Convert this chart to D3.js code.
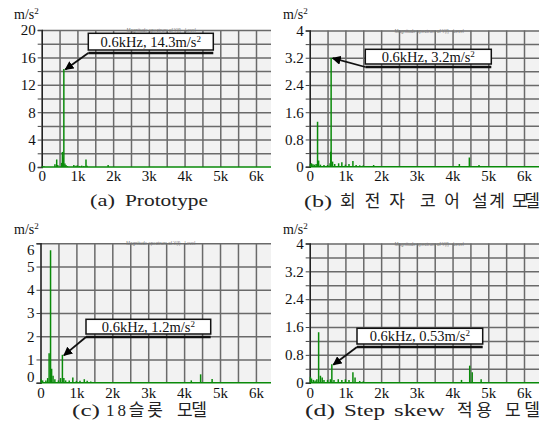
<!DOCTYPE html>
<html>
<head>
<meta charset="utf-8">
<script src="https://cdn.jsdelivr.net/npm/d3@7"></script>
<style>
body { margin: 0; background: #fff; }
svg { display: block; }
</style>
</head>
<body>
<div id="chart"></div>
<script>
// frequency axis (Hz)
var xTickValues = [0, 1000, 2000, 3000, 4000, 5000, 6000];
var xTickLabels = ['0', '1k', '2k', '3k', '4k', '5k', '6k'];
var xMax = 6420;

// captions, split into words
var captionA = ['(a)', 'Prototype'];
var captionB = ['(b)', '회전자', '코어', '설계', '모델'];
var captionC = ['(c)', '18슬롯', '모델'];
var captionD = ['(d)', 'Step', 'skew', '적용', '모델'];
var notes = ['0.6kHz, 14.3m/s', '0.6kHz, 3.2m/s', '0.6kHz, 1.2m/s', '0.6kHz, 0.53m/s'];
var unitLabel = 'm/s';

var yMax = [20, 4, 6, 4];
var yGridStep = [2, 0.4, 1, 0.4];
var yTicksA = [0, 4, 8, 12, 16, 20];
var yTicksB = [0, 0.8, 1.6, 2.4, 3.2, 4];
var yTicksC = [0, 1, 2, 3, 4, 5, 6];
var yTicksD = [0, 0.8, 1.6, 2.4, 3.2, 4];

// spectrum lines
var freqA = [20, 60, 370, 420, 450, 560, 580, 600, 620, 650, 680, 720, 900, 960, 1000, 1060, 1120, 1180, 1240, 1270, 1860];
var ampA  = [0.1, 0.1, 0.4, 1.1, 0.3, 0.6, 2.2, 1.4, 14.3, 0.5, 0.3, 0.15, 0.3, 0.2, 0.25, 0.15, 0.2, 0.15, 1.1, 0.2, 0.3];

var freqB = [20, 50, 90, 130, 180, 220, 250, 300, 400, 500, 570, 590, 600, 640, 700, 810, 900, 1000, 1100, 1210, 1300, 1400, 1500, 1790, 4190, 4470, 4740];
var ampB  = [0.08, 0.1, 0.07, 0.06, 0.08, 1.32, 0.18, 0.06, 0.05, 0.05, 0.1, 0.44, 3.2, 0.15, 0.08, 0.1, 0.13, 0.06, 0.08, 0.17, 0.05, 0.04, 0.04, 0.05, 0.08, 0.27, 0.05];

var freqC = [20, 60, 150, 200, 240, 280, 310, 350, 400, 500, 560, 610, 650, 700, 800, 900, 1000, 1100, 1220, 1300, 1400, 4200, 4460, 4780];
var ampC  = [0.15, 0.1, 0.1, 0.2, 1.27, 5.7, 0.6, 0.3, 0.15, 0.1, 0.2, 1.2, 0.2, 0.1, 0.1, 0.22, 0.08, 0.08, 0.15, 0.08, 0.05, 0.1, 0.36, 0.16];

var freqD = [20, 50, 100, 150, 200, 250, 300, 350, 400, 500, 580, 620, 680, 800, 900, 1000, 1100, 1210, 1270, 1400, 1500, 4250, 4480, 4550, 4800];
var ampD  = [0.17, 0.12, 0.08, 0.06, 0.1, 1.45, 0.2, 0.15, 0.08, 0.08, 0.1, 0.53, 0.08, 0.1, 0.08, 0.1, 0.08, 0.3, 0.15, 0.05, 0.04, 0.08, 0.49, 0.3, 0.1];

var peakFreq = [620, 600, 610, 620];
var peakAmp = [14.3, 3.2, 1.2, 0.53];

// layout of the four panels (pixels); cap = [x, width] for each caption word
var layout = [
    { left: 41.7, right: 271, top: 30, bottom: 167, labDy: 14.5, capY: 206,
      cap: [[90, 25], [125, 83]], unitX: 14, unitY: 19, box: [88.3, 33.3, 125, 16.7] },
    { left: 309.7, right: 539, top: 30.5, bottom: 166.7, labDy: 14.5, capY: 207,
      cap: [[304, 28], [340, 65], [420, 40], [472, 33], [512, 28]], unitX: 283, unitY: 19, box: [365.3, 49.3, 126, 14.7] },
    { left: 40.5, right: 271, top: 243.3, bottom: 382.7, labDy: 15.5, capY: 416,
      cap: [[72, 28], [106, 57], [177, 30]], unitX: 14, unitY: 234, box: [86, 319.3, 124.7, 14.7] },
    { left: 309.7, right: 539, top: 243.5, bottom: 382.7, labDy: 15.5, capY: 416,
      cap: [[305, 30], [344, 41], [394, 51], [457, 35], [505, 35]], unitX: 283, unitY: 234, box: [357, 328.3, 125.7, 15.7] }
];

var freqs = [freqA, freqB, freqC, freqD];
var amps = [ampA, ampB, ampC, ampD];
var yTicks = [yTicksA, yTicksB, yTicksC, yTicksD];
var captions = [captionA, captionB, captionC, captionD];

var serif = '"Liberation Serif", "Times New Roman", serif';
var capFont = '"Liberation Serif", "Noto Sans CJK KR", serif';

var svg = d3.select('#chart').append('svg')
    .attr('width', 547)
    .attr('height', 430);

svg.append('defs').append('marker')
    .attr('id', 'arrow')
    .attr('viewBox', '0 0 10 10')
    .attr('refX', 9).attr('refY', 5)
    .attr('markerWidth', 5).attr('markerHeight', 5)
    .attr('markerUnits', 'strokeWidth')
    .attr('orient', 'auto')
    .append('path')
    .attr('d', 'M0,0 L10,5 L0,10 z')
    .attr('fill', '#000');

layout.forEach(function(L, i) {
    var x = d3.scaleLinear().domain([0, xMax]).range([L.left, L.right]);
    var y = d3.scaleLinear().domain([0, yMax[i]]).range([L.bottom, L.top]);
    var g = svg.append('g');

    g.append('rect')
        .attr('x', L.left).attr('y', L.top)
        .attr('width', L.right - L.left).attr('height', L.bottom - L.top)
        .attr('fill', '#f2f2f2');

    var gridX = d3.range(500, xMax, 500);
    var gridY = d3.range(1, Math.round(yMax[i] / yGridStep[i]) + 1).map(function(k) { return +(k * yGridStep[i]).toFixed(2); });

    var gx = g.append('g')
        .attr('transform', 'translate(0,' + L.bottom + ')')
        .call(d3.axisBottom(x).tickValues(gridX).tickSize(-(L.bottom - L.top)).tickFormat(''));
    gx.select('.domain').remove();
    gx.selectAll('line').attr('stroke', '#6a6a6a').attr('stroke-width', 1.5);

    var gy = g.append('g')
        .attr('transform', 'translate(' + L.left + ',0)')
        .call(d3.axisRight(y).tickValues(gridY).tickSize(L.right - L.left).tickFormat(''));
    gy.select('.domain').remove();
    gy.selectAll('line').attr('stroke', '#6a6a6a').attr('stroke-width', 1.5);

    // faint chart title of the analyser
    g.append('text')
        .attr('x', (L.left + L.right) / 2 + 5).attr('y', L.top + 2)
        .attr('text-anchor', 'middle')
        .attr('font-family', 'Liberation Sans, sans-serif')
        .attr('font-size', 4.5)
        .attr('fill', '#777')
        .text('Magnitude spectrum of Y(f) - Level');

    // left axis with small ticks at each grid step
    var ticksY = [0].concat(gridY);
    var ay = g.append('g')
        .attr('transform', 'translate(' + L.left + ',0)')
        .call(d3.axisLeft(y).tickValues(ticksY).tickSize(4).tickFormat(''));
    ay.select('.domain').attr('stroke', '#222').attr('stroke-width', 1.6);
    ay.selectAll('line').attr('stroke', '#444');

    // tick labels
    var al = g.append('g')
        .attr('transform', 'translate(' + L.left + ',0)')
        .call(d3.axisLeft(y).tickValues(yTicks[i]).tickSize(0).tickPadding(6).tickFormat(function(d) { return d; }));
    al.select('.domain').remove();
    al.selectAll('text')
        .attr('font-family', serif).attr('font-size', 15).attr('fill', '#111');
    if (i === 2) {
        al.selectAll('text').attr('dy', function(d) {
            if (d === 0) return '-0.1em';
            if (d === 6) return '0.75em';
            return '0.32em';
        });
    }

    var ax = g.append('g')
        .attr('transform', 'translate(0,' + L.bottom + ')')
        .call(d3.axisBottom(x).tickValues(xTickValues).tickSize(0).tickPadding(L.labDy - 11)
            .tickFormat(function(d, k) { return xTickLabels[k]; }));
    ax.select('.domain').remove();
    ax.selectAll('text')
        .attr('font-family', serif).attr('font-size', 15).attr('fill', '#111');

    // green baseline and spectral lines
    g.append('line')
        .attr('x1', x(0)).attr('x2', x(xMax))
        .attr('y1', y(0)).attr('y2', y(0))
        .attr('stroke', '#0a8a0a').attr('stroke-width', 1.6);

    g.selectAll('.stem')
        .data(freqs[i].map(function(f, k) { return { f: f, a: amps[i][k] }; }))
        .enter()
        .append('line')
        .attr('class', 'stem')
        .attr('x1', function(d) { return x(d.f); })
        .attr('x2', function(d) { return x(d.f); })
        .attr('y1', y(0))
        .attr('y2', function(d) { return y(d.a); })
        .attr('stroke', '#0a8a0a')
        .attr('stroke-width', 1.5);

    // unit label
    var u = g.append('text')
        .attr('x', L.unitX).attr('y', L.unitY)
        .attr('font-family', serif).attr('font-size', 14).attr('fill', '#111')
        .text(unitLabel);
    u.append('tspan').attr('dy', -5).attr('font-size', 9).text('2');

    // annotation box and arrow
    var b = L.box;
    g.append('line')
        .attr('x1', b[0]).attr('x2', b[0] + b[2])
        .attr('y1', b[1] + b[3] + 3).attr('y2', b[1] + b[3] + 3)
        .attr('stroke', '#111').attr('stroke-width', 2.5);
    g.append('rect')
        .attr('x', b[0]).attr('y', b[1])
        .attr('width', b[2]).attr('height', b[3])
        .attr('fill', '#fff').attr('stroke', '#111').attr('stroke-width', 1.5);
    var t = g.append('text')
        .attr('x', b[0] + b[2] / 2).attr('y', b[1] + b[3] / 2 + 5)
        .attr('text-anchor', 'middle')
        .attr('font-family', serif).attr('font-size', 14.5).attr('fill', '#111')
        .text(notes[i]);
    t.append('tspan').attr('dy', -5).attr('font-size', 9).text('2');

    g.append('line')
        .attr('x1', b[0]).attr('y1', b[1] + b[3] + 3)
        .attr('x2', x(peakFreq[i]) + 1.5).attr('y2', y(peakAmp[i]) + 0.5)
        .attr('stroke', '#111').attr('stroke-width', 1.8)
        .attr('marker-end', 'url(#arrow)');

    // caption, word by word
    g.selectAll('.cap')
        .data(captions[i])
        .enter()
        .append('text')
        .attr('class', 'cap')
        .attr('x', function(d, k) { return L.cap[k][0]; })
        .attr('y', L.capY)
        .attr('font-family', capFont).attr('font-size', 17).attr('fill', '#222')
        .attr('textLength', function(d, k) { return L.cap[k][1]; })
        .attr('lengthAdjust', function(d) { return /[가-힣]/.test(d) ? 'spacing' : 'spacingAndGlyphs'; })
        .text(function(d) { return d; });
});
</script>
</body>
</html>
